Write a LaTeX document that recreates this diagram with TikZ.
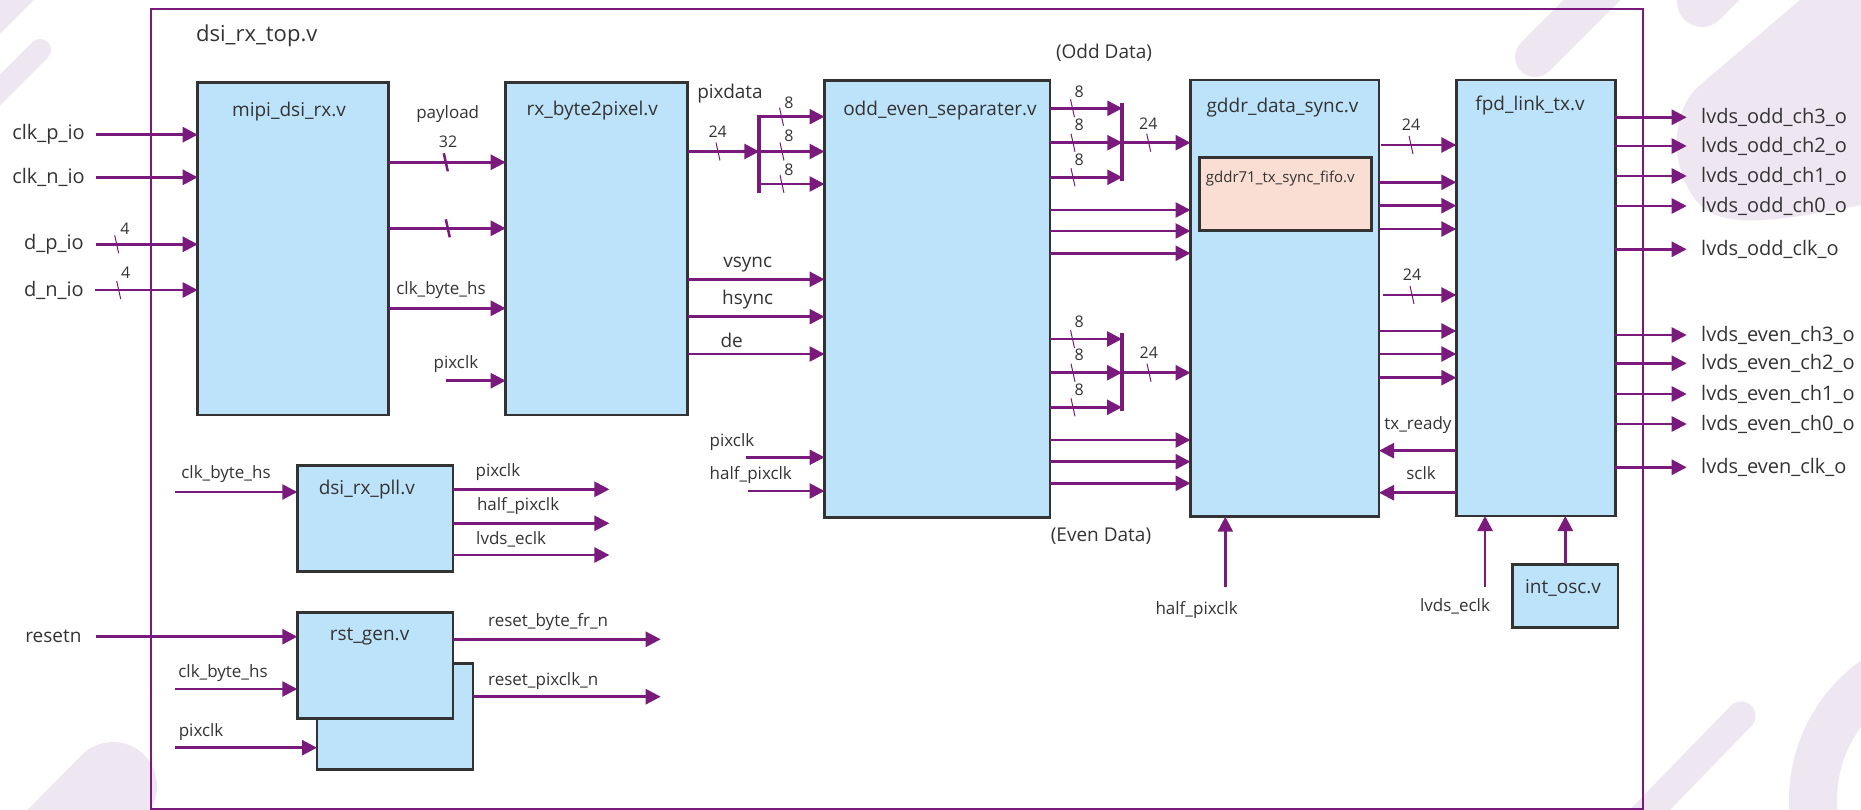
\documentclass[tikz,border=0pt]{standalone}
\usepackage{fontspec}
\setmainfont{Open Sans}
\usetikzlibrary{arrows.meta}
\definecolor{purp}{HTML}{7A1A7D}
\definecolor{boxfill}{HTML}{BDE3FB}
\definecolor{boxline}{HTML}{333333}
\definecolor{fifofill}{HTML}{FADDD3}
\definecolor{txt}{HTML}{333333}
\definecolor{deco}{HTML}{EEE6F0}
\begin{document}
\begin{tikzpicture}[x=1pt,y=-1pt,
  blk/.style={draw=boxline, line width=2.6pt, fill=boxfill, inner sep=0pt, outer sep=0pt, anchor=north west},
  framebox/.style={draw=purp, line width=2.2pt, inner sep=0pt, outer sep=0pt, anchor=north west},
  sig/.style={draw=purp, line width=2.7pt, -{Triangle[length=15pt,width=15pt]}},
  bus/.style={draw=purp, line width=4pt},
  slashthin/.style={draw=purp, line width=1pt},
  slashthick/.style={draw=purp, line width=2.5pt},
  ttl/.style={text=txt, font=\fontsize{22}{26}\selectfont, inner sep=0pt},
  modlbl/.style={text=txt, font=\fontsize{19}{22}\selectfont, inner sep=0pt},
  inlbl/.style={text=txt, font=\fontsize{20}{24}\selectfont, inner sep=0pt},
  bigsig/.style={text=txt, font=\fontsize{19}{22}\selectfont, inner sep=0pt},
  siglbl/.style={text=txt, font=\fontsize{17}{20}\selectfont, inner sep=0pt},
  outlbl/.style={text=txt, font=\fontsize{20}{24}\selectfont, inner sep=0pt, anchor=west},
  numlbl/.style={text=txt, font=\fontsize{16}{19}\selectfont, inner sep=0pt},
  fifolbl/.style={text=txt, font=\fontsize{15}{18}\selectfont, inner sep=0pt},
  decor/.style={draw=deco, line cap=round}
]
\useasboundingbox (0,0) rectangle (1861,810);
% background decoration
\begin{scope}
\clip (0,0) rectangle (1861,810);
\fill[deco] (0,0) -- (34,0) -- (0,34) -- cycle;
\draw[decor, line width=22pt] (40,50) -- (-20,110);
\draw[decor, line width=40pt] (1535,57) -- (1610,-18);
\draw[decor, line width=50pt] (1702,2) -- (1780,-76);
\fill[deco] (1800,0) -- (1700,85) .. controls (1670,110) and (1668,170) .. (1700,205)
  .. controls (1720,225) and (1760,226) .. (1861,205) -- (1861,0) -- cycle;
\draw[decor, line width=88pt] (113,786) -- (20,880);
\draw[decor, line width=29pt] (1741,716) -- (1640,820);
\draw[draw=deco, line width=48pt] (1960,800) circle (147);
\end{scope}

% outer frame
\node[framebox, minimum width=1492pt, minimum height=800pt] (topv) at (150.7,9) {};
\node[ttl, anchor=west] (ttlv) at (196,36) {dsi\_rx\_top.v};

% modules
\node[blk, minimum width=191pt, minimum height=332.3pt] (mipi) at (197.7,82.7) {};
\node[blk, minimum width=182pt, minimum height=332.7pt] (rxb) at (505.7,82.3) {};
\node[blk, minimum width=225.5pt, minimum height=436.6pt] (oes) at (824.5,80.7) {};
\node[blk, minimum width=188.5pt, minimum height=436.7pt] (gddr) at (1190.5,80) {};
\node[blk, fill=fifofill, minimum width=172.4pt, minimum height=73.4pt] (fifo) at (1199.3,157.3) {};
\node[blk, minimum width=159pt, minimum height=436pt] (fpd) at (1456.3,80) {};
\node[blk, minimum width=155.7pt, minimum height=106.4pt] (pll) at (297.3,465.3) {};
\node[blk, minimum width=155.8pt, minimum height=106pt] (rst2) at (317,663.3) {};
\node[blk, minimum width=155.7pt, minimum height=106pt] (rst) at (297.3,612.3) {};
\node[blk, minimum width=105.5pt, minimum height=63pt] (osc) at (1512.5,564.3) {};

\node[modlbl] (lmipi) at (289,111.7) {mipi\_dsi\_rx.v};
\node[modlbl] (lrxb) at (592.3,111) {rx\_byte2pixel.v};
\node[modlbl] (loes) at (940,111) {odd\_even\_separater.v};
\node[modlbl] (lgddr) at (1282.5,107.3) {gddr\_data\_sync.v};
\node[fifolbl, anchor=west] (lfifo) at (1205.7,178.3) {gddr71\_tx\_sync\_fifo.v};
\node[modlbl] (lfpd) at (1530,106) {fpd\_link\_tx.v};
\node[modlbl] (lpll) at (366.8,490) {dsi\_rx\_pll.v};
\node[modlbl] (lrst) at (369.6,636.7) {rst\_gen.v};
\node[modlbl] (losc) at (1563,588.3) {int\_osc.v};

% inputs of mipi_dsi_rx
\node[inlbl, anchor=east] (lclkp) at (85,134.7) {clk\_p\_io};
\node[inlbl, anchor=east] (lclkn) at (85,177.3) {clk\_n\_io};
\node[inlbl, anchor=east] (ldp) at (84,244.3) {d\_p\_io};
\node[inlbl, anchor=east] (ldn) at (84,290) {d\_n\_io};
\coordinate (iclkp) at (95.7,134.7);
\coordinate (iclkn) at (95.7,177.3);
\coordinate (idp) at (95.7,244.3);
\coordinate (idn) at (95,290);
\draw[sig] (iclkp) -- (iclkp -| mipi.west);
\draw[sig] (iclkn) -- (iclkn -| mipi.west);
\draw[sig] (idp) -- (idp -| mipi.west);
\draw[sig] (idn) -- (idn -| mipi.west);
\draw[slashthin] (114.7,235.3) -- (118.7,253.3);
\draw[slashthin] (116.7,281) -- (120.7,299);
\node[numlbl] (n4a) at (125,228.7) {4};
\node[numlbl] (n4b) at (125.7,272.7) {4};

% mipi -> rx_byte2pixel
\coordinate (opay) at (388.7,162.3);
\coordinate (opay2) at (388.7,228.3);
\coordinate (ocbh) at (388.7,308.3);
\draw[sig] (opay) -- (opay -| rxb.west);
\draw[sig] (opay2) -- (opay2 -| rxb.west);
\draw[sig] (ocbh) -- (ocbh -| rxb.west);
\draw[slashthick] (443.8,153.3) -- (447.8,171.3);
\draw[slashthick] (445.8,219.3) -- (449.8,237.3);
\node[siglbl] (lpay) at (447.7,114) {payload};
\node[numlbl] (n32) at (448,141.7) {32};
\node[siglbl] (lcbh) at (441,290) {clk\_byte\_hs};
\coordinate (ipixr) at (445.5,380.7);
\draw[sig] (ipixr) -- (ipixr -| rxb.west);
\node[siglbl] (lpixr) at (456,364) {pixclk};

% rx_byte2pixel -> odd_even_separater
\node[bigsig] (lpixd) at (730,93.3) {pixdata};
\node[numlbl] (n24a) at (717.7,132) {24};
\coordinate (opix) at (687.7,151.5);
\coordinate (busa) at (759.3,151.5);
\coordinate (busat) at (759.3,114.7);
\coordinate (busab) at (759.3,193.5);
\draw[sig] (opix) -- (busa);
\draw[bus] (busat) -- (busab);
\coordinate (ba1) at (759.3,116.7);
\coordinate (ba2) at (759.3,151.5);
\coordinate (ba3) at (759.3,184);
\draw[sig] (ba1) -- (ba1 -| oes.west);
\draw[sig] (ba2) -- (ba2 -| oes.west);
\draw[sig] (ba3) -- (ba3 -| oes.west);
\draw[slashthin] (716,142.5) -- (720,160.5);
\draw[slashthin] (779.5,107.7) -- (783.5,125.7);
\draw[slashthin] (780,142.5) -- (784,160.5);
\draw[slashthin] (780,175) -- (784,193);
\node[numlbl] (n8a) at (789,102.7) {8};
\node[numlbl] (n8b) at (789,136) {8};
\node[numlbl] (n8c) at (789,170) {8};

\coordinate (ovs) at (687.7,279.3);
\coordinate (ohs) at (687.7,316.7);
\coordinate (ode) at (687.7,354);
\draw[sig] (ovs) -- (ovs -| oes.west);
\draw[sig] (ohs) -- (ohs -| oes.west);
\draw[sig] (ode) -- (ode -| oes.west);
\node[bigsig] (lvs) at (747.7,265) {vsync};
\node[bigsig] (lhs) at (747.7,300) {hsync};
\node[bigsig] (lde) at (731.7,340) {de};

% other inputs of odd_even_separater
\coordinate (ipxo) at (745.8,457.3);
\coordinate (ihpo) at (747.7,491);
\draw[sig] (ipxo) -- (ipxo -| oes.west);
\draw[sig] (ihpo) -- (ihpo -| oes.west);
\node[siglbl, anchor=west] (lpxo) at (709.5,441.7) {pixclk};
\node[siglbl, anchor=west] (lhpo) at (709.5,475) {half\_pixclk};

% odd data
\node[bigsig] (lodd) at (1104,52.7) {(Odd Data)};
\coordinate (oo1) at (1050,108.3);
\coordinate (oo2) at (1050,142.7);
\coordinate (oo3) at (1050,177.3);
\coordinate (busb) at (1122.3,142.7);
\coordinate (busbt) at (1122.3,102.7);
\coordinate (busbb) at (1122.3,181);
\draw[sig] (oo1) -- (oo1 -| busb);
\draw[sig] (oo2) -- (busb);
\draw[sig] (oo3) -- (oo3 -| busb);
\draw[bus] (busbt) -- (busbb);
\draw[sig] (busb) -- (busb -| gddr.west);
\draw[slashthin] (1070.5,99.3) -- (1074.5,117.3);
\draw[slashthin] (1071,133.7) -- (1075,151.7);
\draw[slashthin] (1071,168.3) -- (1075,186.3);
\draw[slashthin] (1146.7,133.7) -- (1150.7,151.7);
\node[numlbl] (n8d) at (1079.3,91.7) {8};
\node[numlbl] (n8e) at (1079.3,125) {8};
\node[numlbl] (n8f) at (1079.3,159.3) {8};
\node[numlbl] (n24b) at (1148.3,123.3) {24};
\coordinate (op1) at (1050,210);
\coordinate (op2) at (1050,231);
\coordinate (op3) at (1050,253.3);
\draw[sig] (op1) -- (op1 -| gddr.west);
\draw[sig] (op2) -- (op2 -| gddr.west);
\draw[sig] (op3) -- (op3 -| gddr.west);

% even data
\coordinate (oe1) at (1050,339);
\coordinate (oe2) at (1050,372.7);
\coordinate (oe3) at (1050,407.3);
\coordinate (busc) at (1122,372.7);
\coordinate (busct) at (1122,333.3);
\coordinate (buscb) at (1122,410.7);
\draw[sig] (oe1) -- (oe1 -| busc);
\draw[sig] (oe2) -- (busc);
\draw[sig] (oe3) -- (oe3 -| busc);
\draw[bus] (busct) -- (buscb);
\draw[sig] (busc) -- (busc -| gddr.west);
\draw[slashthin] (1070.5,330) -- (1074.5,348);
\draw[slashthin] (1071,363.7) -- (1075,381.7);
\draw[slashthin] (1071,398.3) -- (1075,416.3);
\draw[slashthin] (1147,363.7) -- (1151,381.7);
\node[numlbl] (n8g) at (1079.3,321.7) {8};
\node[numlbl] (n8h) at (1079.3,354.3) {8};
\node[numlbl] (n8i) at (1079.3,389.3) {8};
\node[numlbl] (n24c) at (1148.8,352.3) {24};
\coordinate (ep1) at (1050,440);
\coordinate (ep2) at (1050,461.7);
\coordinate (ep3) at (1050,483.3);
\draw[sig] (ep1) -- (ep1 -| gddr.west);
\draw[sig] (ep2) -- (ep2 -| gddr.west);
\draw[sig] (ep3) -- (ep3 -| gddr.west);
\node[bigsig] (leven) at (1101,536) {(Even Data)};

% half_pixclk into gddr
\coordinate (ihpg) at (1225.3,586.7);
\draw[sig] (ihpg) -- (ihpg |- gddr.south);
\node[siglbl] (lhpg) at (1196.6,610) {half\_pixclk};

% gddr -> fpd_link_tx
\coordinate (g1) at (1381,145);
\coordinate (g2) at (1379,182.3);
\coordinate (g3) at (1379,205.7);
\coordinate (g4) at (1379,229);
\coordinate (g5) at (1383,295);
\coordinate (g6) at (1379,331);
\coordinate (g7) at (1379,354);
\coordinate (g8) at (1379,377.7);
\foreach \g in {g1,g2,g3,g4,g5,g6,g7,g8} {\draw[sig] (\g) -- (\g -| fpd.west);}
\draw[slashthin] (1409,136) -- (1413,154);
\draw[slashthin] (1410,286) -- (1414,304);
\node[numlbl] (n24d) at (1411,125) {24};
\node[numlbl] (n24e) at (1412,275) {24};

% fpd_link_tx -> gddr
\coordinate (txr) at (1456.3,450.7);
\coordinate (scl) at (1456.3,492.7);
\draw[sig] (txr) -- (txr -| gddr.east);
\draw[sig] (scl) -- (scl -| gddr.east);
\node[siglbl] (ltxr) at (1418,425) {tx\_ready};
\node[siglbl] (lscl) at (1421,472.7) {sclk};

% clocks into fpd_link_tx
\coordinate (iecl) at (1485,587.3);
\draw[sig] (iecl) -- (iecl |- fpd.south);
\node[siglbl] (lecl) at (1455,606.7) {lvds\_eclk};
\draw[sig] (osc.north) -- (osc.north |- fpd.south);

% outputs
\coordinate (q1) at (1686.7,117.3);
\coordinate (q2) at (1686.7,146);
\coordinate (q3) at (1686.7,176);
\coordinate (q4) at (1686.7,206);
\coordinate (q5) at (1686.7,249.3);
\coordinate (q6) at (1686.7,335);
\coordinate (q7) at (1686.7,363.3);
\coordinate (q8) at (1686.7,394);
\coordinate (q9) at (1686.7,424);
\coordinate (q10) at (1686.7,467.3);
\foreach \q in {q1,q2,q3,q4,q5,q6,q7,q8,q9,q10} {\draw[sig] (\q -| fpd.east) -- (\q);}
\node[outlbl] (lq1) at (1701,117.3) {lvds\_odd\_ch3\_o};
\node[outlbl] (lq2) at (1701,146) {lvds\_odd\_ch2\_o};
\node[outlbl] (lq3) at (1701,176) {lvds\_odd\_ch1\_o};
\node[outlbl] (lq4) at (1701,206) {lvds\_odd\_ch0\_o};
\node[outlbl] (lq5) at (1701,249.3) {lvds\_odd\_clk\_o};
\node[outlbl] (lq6) at (1701,335) {lvds\_even\_ch3\_o};
\node[outlbl] (lq7) at (1701,363.3) {lvds\_even\_ch2\_o};
\node[outlbl] (lq8) at (1701,394) {lvds\_even\_ch1\_o};
\node[outlbl] (lq9) at (1701,424) {lvds\_even\_ch0\_o};
\node[outlbl] (lq10) at (1701,467.3) {lvds\_even\_clk\_o};

% dsi_rx_pll
\coordinate (ipll) at (174.6,492);
\draw[sig] (ipll) -- (ipll -| pll.west);
\node[siglbl] (lipll) at (226,474.3) {clk\_byte\_hs};
\coordinate (p1) at (609.4,489.3);
\coordinate (p2) at (609.4,523.3);
\coordinate (p3) at (609.4,555);
\draw[sig] (p1 -| pll.east) -- (p1);
\draw[sig] (p2 -| pll.east) -- (p2);
\draw[sig] (p3 -| pll.east) -- (p3);
\node[siglbl, anchor=west] (lp1) at (475.4,472.3) {pixclk};
\node[siglbl, anchor=west] (lp2) at (476.8,506) {half\_pixclk};
\node[siglbl, anchor=west] (lp3) at (476,539) {lvds\_eclk};

% rst_gen
\node[bigsig, anchor=east] (lrstn) at (81.7,636.7) {resetn};
\coordinate (irstn) at (96.4,636.7);
\draw[sig] (irstn) -- (irstn -| rst.west);
\coordinate (icbh2) at (174.6,689);
\draw[sig] (icbh2) -- (icbh2 -| rst.west);
\node[siglbl] (licbh2) at (223,673.3) {clk\_byte\_hs};
\coordinate (ipx2) at (174.6,747.7);
\draw[sig] (ipx2) -- (ipx2 -| rst2.west);
\node[siglbl, anchor=west] (lipx2) at (178.6,732.3) {pixclk};
\coordinate (r1) at (660.7,639.3);
\coordinate (r2) at (660.7,696.7);
\draw[sig] (r1 -| rst.east) -- (r1);
\draw[sig] (r2 -| rst2.east) -- (r2);
\node[siglbl, anchor=west] (lr1) at (488,622.3) {reset\_byte\_fr\_n};
\node[siglbl, anchor=west] (lr2) at (488,680.7) {reset\_pixclk\_n};
\end{tikzpicture}
\end{document}
